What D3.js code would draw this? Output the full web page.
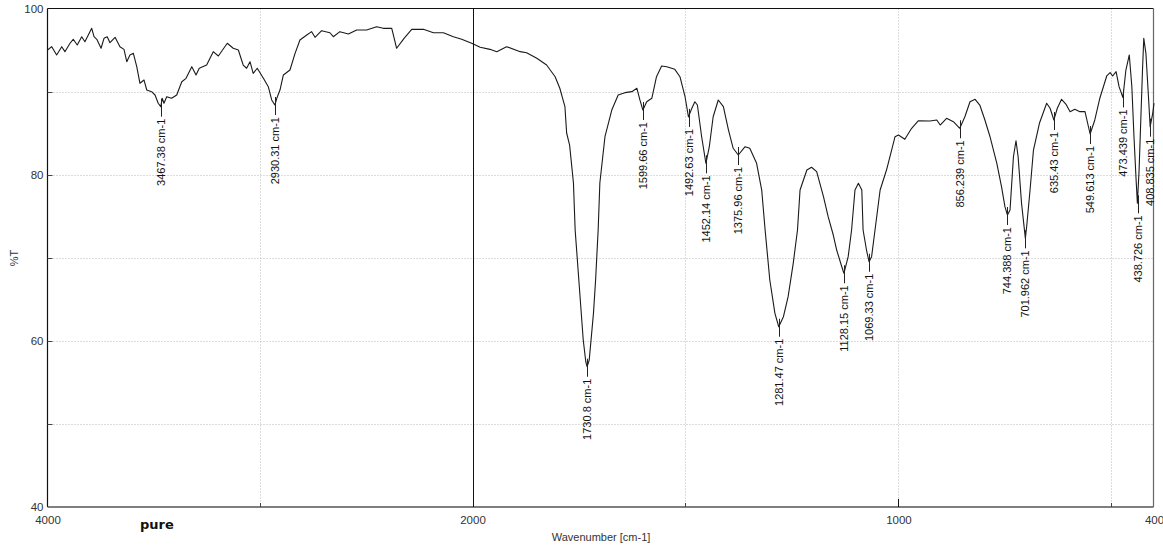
<!DOCTYPE html>
<html lang="en">
<head>
<meta charset="utf-8">
<title>FTIR pure</title>
<script src="https://d3js.org/d3.v7.min.js"></script>
<style>
  body { margin: 0; background: #fff; }
  text { font-family: "Liberation Sans", Arial, sans-serif; }
  .grid { stroke: #b8b8b8; stroke-width: 1; stroke-dasharray: 1,2; }
  .tick-lbl { font-size: 11.5px; fill: #333; }
  .peak { font-size: 11px; fill: #111; }
</style>
</head>
<body>
<div id="viz"></div>
<script>
// spectrum (wavenumber cm-1 / %T)
var wavenumber = [4000,3980,3957,3933,3918,3894,3879,3860,3839,3824,3808,3792,3781,3768,3748,3734,3719,3706,3682,3659,
  3640,3627,3612,3596,3580,3565,3546,3533,3510,3494,3479,3467,3460,3452,3439,3416,3392,3368,3348,3321,
  3301,3286,3251,3220,3196,3154,3126,3102,3079,3063,3047,3032,3013,2984,2961,2945,2930,2921,2906,2890,
  2859,2835,2812,2780,2757,2741,2710,2671,2655,2624,2584,2545,2498,2451,2420,2380,2357,2322,2286,2231,
  2184,2137,2090,2051,2004,1982,1959,1943,1920,1888,1873,1849,1826,1806,1795,1783,1779,1772,1763,1759,
  1740,1734,1731,1726,1716,1711,1705,1701,1689,1673,1658,1642,1626,1614,1607,1600,1591,1579,1568,1556,
  1544,1525,1513,1501,1493,1485,1478,1472,1462,1452,1444,1435,1423,1411,1399,1388,1376,1360,1349,1333,
  1321,1313,1302,1290,1281,1270,1259,1247,1237,1231,1215,1204,1192,1176,1165,1153,1145,1133,1128,1118,
  1110,1102,1094,1086,1083,1075,1069,1063,1055,1043,1028,1016,1008,1000,985,969,953,926,910,902,
  887,871,856,844,832,820,809,797,785,769,758,750,744,738,730,724,719,711,702,699,
  691,683,669,652,644,635,627,617,607,597,586,574,562,550,539,527,511,503,497,489,
  482,473,466,458,452,447,442,439,435,431,427,424,419,413,409,403,400];
var transmittance = [95.06,95.46,94.46,95.46,94.86,95.87,96.35,95.66,96.66,96.06,96.87,97.67,96.66,96.35,95.27,96.47,96.66,95.94,96.59,95.46,
  95.14,93.65,94.46,94.66,93.05,91.05,91.45,90.24,90.04,89.64,88.64,88.23,89.24,88.64,89.43,89.24,89.64,91.24,91.65,93.05,
  92.05,92.86,93.25,94.86,94.34,95.87,95.27,95.06,93.25,92.86,93.65,92.25,92.86,91.65,90.64,89.04,88.43,89.24,90.24,92.05,
  92.65,94.66,96.27,96.87,97.27,96.59,97.39,97.14,96.66,97.27,96.99,97.47,97.47,97.87,97.67,97.67,95.27,96.47,97.55,97.55,
  97.14,97.14,96.66,96.35,95.87,95.39,95.14,94.86,95.46,94.86,94.73,94.06,93.25,91.84,90.45,88.23,85.06,83.6,79.04,73.37,
  60.12,57.5,56.9,57.7,63.33,67.35,73.37,79.04,84.61,87.83,89.64,89.92,90.04,90.45,89.04,87.83,88.83,89.24,91.84,93.13,
  93.05,92.73,91.84,89.43,87.0,88.04,88.83,88.43,84.61,81.41,83.41,87.02,89.04,88.23,85.42,83.22,82.41,83.41,83.22,81.41,
  78.19,73.37,67.35,63.33,61.72,62.93,65.34,69.36,73.37,78.19,80.6,80.93,80.4,77.39,74.98,72.77,70.96,68.95,68.16,70.16,
  73.37,78.19,79.0,78.19,73.37,70.96,69.55,70.16,73.37,78.19,80.6,83.01,84.61,84.82,84.3,85.63,86.54,86.51,86.63,86.02,
  86.83,86.42,85.63,87.02,88.83,89.12,88.43,86.63,84.61,81.41,78.59,76.18,75.18,75.78,82.2,84.13,82.2,76.59,72.37,73.77,
  78.19,83.01,86.23,88.64,88.04,86.63,88.04,89.12,88.55,87.63,87.92,87.63,87.63,84.94,86.63,89.28,91.93,92.33,91.93,92.45,
  90.64,89.34,92.65,94.46,90.64,84.61,79.4,76.59,80.6,86.63,92.65,96.47,94.66,89.43,85.82,87.43,88.64];

// peak picks
var peakWn = [3467.38,2930.31,1730.8,1599.66,1492.63,1452.14,1375.96,1281.47,1128.15,1069.33,856.239,744.388,701.962,635.43,549.613,473.439,438.726,408.835];
var peakT = [88.23,88.43,56.9,87.83,87.0,81.41,82.41,61.72,68.16,69.55,85.63,75.18,72.37,86.63,84.94,89.34,76.59,85.82];
var peakText = ["3467.38 cm-1","2930.31 cm-1","1730.8 cm-1","1599.66 cm-1","1492.63 cm-1","1452.14 cm-1","1375.96 cm-1","1281.47 cm-1",
  "1128.15 cm-1","1069.33 cm-1","856.239 cm-1","744.388 cm-1","701.962 cm-1","635.43 cm-1","549.613 cm-1","473.439 cm-1","438.726 cm-1","408.835 cm-1"];

var xLabels = [4000, 2000, 1000, 400];
var xGrid = [3000, 1500, 1000, 500];
var xMinor = [3000, 1500, 500];
var yLabels = [100, 80, 60, 40];
var yGrid = [90, 80, 70, 60, 50];

var W = 1163, H = 548;
var plotL = 47.5, plotR = 1153.5, plotT = 8.5, plotB = 507;

var svg = d3.select("#viz").append("svg")
  .attr("width", W).attr("height", H);

// broken x axis: 4000-2000 compressed, 2000-400 expanded
var x = d3.scaleLinear()
  .domain([4000, 2000, 400])
  .range([plotL, 472.5, 1154]);
var y = d3.scaleLinear()
  .domain([40, 100])
  .range([plotB, plotT + 0.5]);

// grid
svg.append("g").selectAll("line").data(yGrid).enter().append("line")
  .attr("class", "grid")
  .attr("x1", plotL).attr("x2", plotR)
  .attr("y1", function(d){ return Math.round(y(d)) + 0.5; })
  .attr("y2", function(d){ return Math.round(y(d)) + 0.5; });
svg.append("g").selectAll("line").data(xGrid).enter().append("line")
  .attr("class", "grid")
  .attr("y1", plotT).attr("y2", plotB)
  .attr("x1", function(d){ return Math.round(x(d)) + 0.5; })
  .attr("x2", function(d){ return Math.round(x(d)) + 0.5; });

// frame
svg.append("line").attr("x1", plotL).attr("x2", plotR).attr("y1", plotT).attr("y2", plotT)
  .attr("stroke", "#111").attr("stroke-width", 1.2);
svg.append("line").attr("x1", plotL).attr("x2", plotL).attr("y1", plotT).attr("y2", plotB)
  .attr("stroke", "#111").attr("stroke-width", 1.2);
svg.append("line").attr("x1", plotR).attr("x2", plotR).attr("y1", plotT).attr("y2", plotB)
  .attr("stroke", "#666").attr("stroke-width", 1.2);
svg.append("line").attr("x1", plotL).attr("x2", plotR).attr("y1", plotB).attr("y2", plotB)
  .attr("stroke", "#555").attr("stroke-width", 1.6);

// split line at 2000
svg.append("line")
  .attr("x1", Math.round(x(2000)) + 0.5).attr("x2", Math.round(x(2000)) + 0.5)
  .attr("y1", plotT).attr("y2", plotB)
  .attr("stroke", "#111").attr("stroke-width", 1);

// inner ticks
svg.append("g").selectAll("line").data(yGrid).enter().append("line")
  .attr("x1", plotL).attr("x2", plotL + 5)
  .attr("y1", function(d){ return Math.round(y(d)) + 0.5; })
  .attr("y2", function(d){ return Math.round(y(d)) + 0.5; })
  .attr("stroke", "#444");
svg.append("g").selectAll("line").data(xMinor).enter().append("line")
  .attr("y1", plotB).attr("y2", plotB - 4)
  .attr("x1", function(d){ return Math.round(x(d)) + 0.5; })
  .attr("x2", function(d){ return Math.round(x(d)) + 0.5; })
  .attr("stroke", "#444");
svg.append("line")
  .attr("x1", Math.round(x(1000)) + 0.5).attr("x2", Math.round(x(1000)) + 0.5)
  .attr("y1", plotB).attr("y2", plotB - 8)
  .attr("stroke", "#111");

// axis labels via d3 axes (no lines)
var yAxis = svg.append("g")
  .attr("transform", "translate(" + plotL + ",0)")
  .call(d3.axisLeft(y).tickValues(yLabels).tickSize(0).tickPadding(4).tickFormat(d3.format("d")));
yAxis.select(".domain").remove();
yAxis.selectAll("text").attr("class", "tick-lbl").style("font-size", "11.5px");

var xAxis = svg.append("g")
  .attr("transform", "translate(0," + plotB + ")")
  .call(d3.axisBottom(x).tickValues(xLabels).tickSize(0).tickPadding(9).tickFormat(d3.format("d")));
xAxis.select(".domain").remove();
xAxis.selectAll("text").attr("class", "tick-lbl").style("font-size", "11.5px");

svg.append("text")
  .attr("x", 601).attr("y", 540.5)
  .attr("text-anchor", "middle")
  .style("font-size", "11px").style("fill", "#333")
  .text("Wavenumber [cm-1]");

svg.append("text")
  .attr("transform", "translate(18,258) rotate(-90)")
  .attr("text-anchor", "middle")
  .style("font-size", "11px").style("fill", "#333")
  .text("%T");

svg.append("text")
  .attr("x", 140).attr("y", 529)
  .style("font-family", "'DejaVu Sans', sans-serif")
  .style("font-weight", "bold").style("font-size", "13px").style("fill", "#111")
  .text("pure");

// spectrum
var spectrum = wavenumber.map(function(d, i){ return {wn: d, t: transmittance[i]}; });
var line = d3.line()
  .x(function(d){ return x(d.wn); })
  .y(function(d){ return y(d.t); });
svg.append("path")
  .datum(spectrum)
  .attr("d", line)
  .attr("fill", "none")
  .attr("stroke", "#1a1a1a")
  .attr("stroke-width", 1.1)
  .attr("stroke-linejoin", "round");

// peak markers + labels
var peaks = peakWn.map(function(d, i){ return {wn: d, t: peakT[i], label: peakText[i]}; });
var pk = svg.append("g").selectAll("g").data(peaks).enter().append("g")
  .attr("transform", function(d){ return "translate(" + (Math.round(x(d.wn)) + 0.5) + "," + y(d.t) + ")"; });
pk.append("line")
  .attr("x1", 0).attr("x2", 0).attr("y1", -8).attr("y2", 10)
  .attr("stroke", "#222").attr("stroke-width", 1);
pk.append("text")
  .attr("class", "peak")
  .attr("transform", "translate(0,12) rotate(-90)")
  .attr("text-anchor", "end")
  .attr("dy", "0.35em")
  .text(function(d){ return d.label; });
</script>
</body>
</html>
